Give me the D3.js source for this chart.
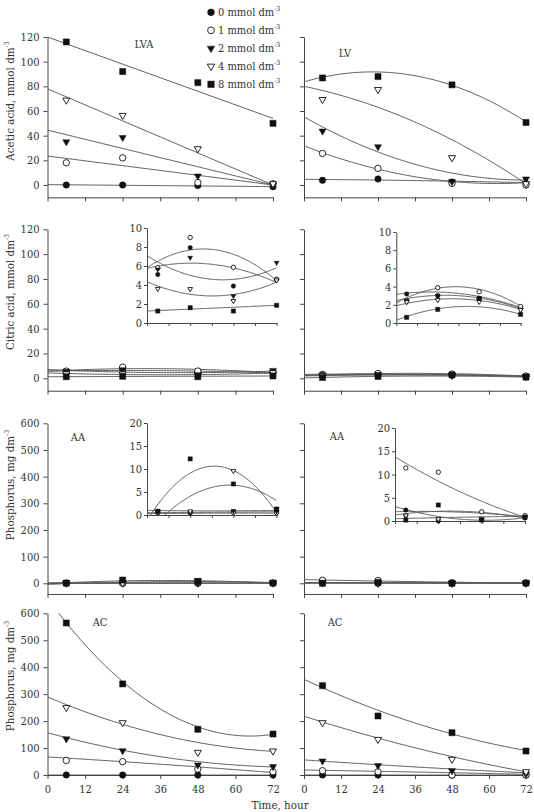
<!DOCTYPE html>
<html>
<head>
<meta charset="utf-8">
<script src="https://cdn.jsdelivr.net/npm/d3@7"></script>
<style>
	body { margin: 0; background: #fff; }
	svg text { font-family: "DejaVu Serif Condensed", "DejaVu Serif", serif; fill: #333; }
</style>
</head>
<body>
<svg id="chart" width="534" height="812"></svg>
<script>
// Sampling times (hour) and treatment levels (mmol dm-3)
const times = [6, 24, 48, 72];
const levels = ['0', '1', '2', '4', '8'];
const xTicks = [0, 12, 24, 36, 48, 60, 72];
// Trend curves are given by their value at these three times
const fitTimes = [0, 36, 72];

// Acetic acid, mmol dm-3 (one row per level)
const aceticLVA = [[0, 0, -0.5, -1.5], [18, 22, 2, 1], [35, 38.5, 7.3, 0], [68.8, 56.4, 29.4, 1], [116, 92, 83, 50]];
const aceticLVAFit = [[0.3, -0.5, -1.3], [23.5, 11.8, 0], [44.5, 22.2, 0], [78, 39, 0], [120, 87, 54]];
const aceticLV = [[3.8, 4.9, 2.5, 1.3], [25.6, 13.5, 1.3, 0], [43.7, 31, 2.7, 4.9], [69.3, 77.4, 22.1, 1], [86.8, 87.9, 81.2, 50.7]];
const aceticLVFit = [[4.6, 3.6, 1.9], [31.8, 6.7, 1.9], [55.3, 16.8, 4], [80, 51, 1], [83.6, 88.6, 51.2]];

// Citric acid, mmol dm-3
const citricLVA = [[5.1, 7.93, 3.89, 4.6], [5.82, 9.0, 5.86, 4.6], [5.65, 6.88, 2.84, 6.35], [3.6, 3.58, 2.32, 4.5], [1.26, 1.61, 1.26, 1.86]];
const citricLVAFit = [[5.75, 6.18, 4.25], [5.82, 7.75, 4.46], [7.09, 4.6, 5.82], [4.35, 2.85, 4.3], [1.26, 1.56, 1.86]];
const citricLV = [[3.19, 3.0, 2.71, 1.7], [2.45, 3.88, 3.44, 1.8], [2.45, 3.0, 2.6, 1.5], [2.3, 2.53, 2.34, 1.43], [0.62, 1.5, 2.7, 0.95]];
const citricLVFit = [[3.15, 3.25, 1.7], [2.2, 3.98, 1.85], [2.45, 3.0, 1.6], [1.9, 2.65, 1.5], [0.3, 1.8, 0.95]];

// Phosphorus, mg dm-3 (AA)
const phosAALVA = [[0.72, 0.5, 0.6, 0.7], [0.5, 0.5, 0.6, 0.5], [0.9, 0.5, 0.9, 0.8], [0.7, 0.8, 9.57, 1.3], [0.8, 12.2, 6.75, 1.3]];
const phosAALVAFit = [[0.5, 0.6, 0.7], [0.3, 0.4, 0.4], [1.0, 0.9, 1.0], [-1.2, 10.6, 0.5], [-4.1, 6.0, 3.1]];
const phosAALV = [[2.37, 0, 0.3, 0.7], [11.4, 10.5, 2.0, 1.15], [0.93, 0.3, 0.3, 0.7], [1.2, 0.4, 0.5, 0.9], [0.2, 3.44, 0.2, 0.8]];
const phosAALVFit = [[3.1, 0.4, 0.7], [13.8, 6.3, 0.8], [2.0, 1.9, 0.9], [0.5, 0.8, 1.0], [1.3, 2.1, 0.6]];

// Phosphorus, mg dm-3 (AC)
const phosACLVA = [[0, 0, 0, 0], [54, 49.5, 22, 12], [134, 90, 37, 31], [250, 194, 84, 89], [564, 338, 169.5, 152]];
const phosACLVAFit = [[0, 0, 0], [67, 40, 9], [157, 68, 30], [290, 150, 88], [655, 245, 151]];
const phosACLV = [[0, 0, 0, 0], [16, 12, 0, 0], [52, 35, 16, 4], [194, 132, 58, 12], [331.5, 219, 157, 89]];
const phosACLVFit = [[0, 0, 0], [18.6, 11, 2.5], [56, 30, 8], [218, 101, 12], [355, 193, 91]];

// Layout
const cols = [[47.5, 273], [304, 526]];
const rows = [
	{ min: -10, max: 120, top: 37, zero: 185, step: 20, title: 'Acetic acid, mmol dm', titleY: 101 },
	{ min: -10, max: 120, top: 229.3, zero: 378.3, step: 20, title: 'Citric acid, mmol dm', titleY: 292 },
	{ min: -40, max: 600, top: 423.3, zero: 583.3, step: 100, title: 'Phosphorus, mg dm', titleY: 485 },
	{ min: 0, max: 600, top: 613.3, zero: 775, step: 100, title: 'Phosphorus, mg dm', titleY: 676 }
];
const panels = [
	{ row: 0, col: 0, values: aceticLVA, fit: aceticLVAFit, label: 'LVA', labelPos: [144, 48] },
	{ row: 0, col: 1, values: aceticLV, fit: aceticLVFit, label: 'LV', labelPos: [345, 56.5] },
	{ row: 1, col: 0, values: citricLVA, fit: citricLVAFit, label: '', labelPos: [0, 0] },
	{ row: 1, col: 1, values: citricLV, fit: citricLVFit, label: '', labelPos: [0, 0] },
	{ row: 2, col: 0, values: phosAALVA, fit: phosAALVAFit, label: 'AA', labelPos: [78, 440.5] },
	{ row: 2, col: 1, values: phosAALV, fit: phosAALVFit, label: 'AA', labelPos: [337, 440] },
	{ row: 3, col: 0, values: phosACLVA, fit: phosACLVAFit, label: 'AC', labelPos: [100, 625.5] },
	{ row: 3, col: 1, values: phosACLV, fit: phosACLVFit, label: 'AC', labelPos: [335, 626] }
];
const insets = [
	{ values: citricLVA, fit: citricLVAFit, x0: 147, x1: 276.6, top: 228, zero: 323, max: 10, step: 2 },
	{ values: citricLV, fit: citricLVFit, x0: 396.3, x1: 520.6, top: 232, zero: 323, max: 10, step: 2 },
	{ values: phosAALVA, fit: phosAALVAFit, x0: 147, x1: 276.6, top: 423, zero: 515, max: 20, step: 5 },
	{ values: phosAALV, fit: phosAALVFit, x0: 395, x1: 525, top: 428, zero: 521, max: 20, step: 5 }
];

// Marker style per level: filled circle, open circle, filled/open down triangle, filled square
const shapes = ['circle', 'circle', 'triangle', 'triangle', 'square'];
const filled = [true, false, true, false, true];
const ink = '#111';
const lineColor = '#5a5a5a';
const axisColor = '#444';

const svg = d3.select('#chart');
let clipCount = 0;

// Quadratic through the three trend values
const trendAt = function(v, t) {
	const [a, b, c] = fitTimes;
	return v[0] * (t - b) * (t - c) / ((a - b) * (a - c))
		+ v[1] * (t - a) * (t - c) / ((b - a) * (b - c))
		+ v[2] * (t - a) * (t - b) / ((c - a) * (c - b));
};

const symbolPath = function(shape, r) {
	if (shape === 'circle') {
		return `M${r},0A${r},${r} 0 1,1 ${-r},0A${r},${r} 0 1,1 ${r},0Z`;
	}
	if (shape === 'square') {
		const s = r * 0.95;
		return `M${-s},${-s}H${s}V${s}H${-s}Z`;
	}
	const side = r * 2.2;
	const h = side * Math.sqrt(3) / 2;
	return `M${-side / 2},${-h / 3}L${side / 2},${-h / 3}L0,${2 * h / 3}Z`;
};

const drawSymbol = function(g, level, cx, cy, r) {
	g.append('path')
		.attr('d', symbolPath(shapes[level], r))
		.attr('transform', `translate(${cx},${cy})`)
		.attr('fill', filled[level] ? ink : '#fff')
		.attr('stroke', ink)
		.attr('stroke-width', filled[level] ? 0.5 : 0.9);
};

const styleAxis = function(g, size) {
	g.attr('font-size', size);
	g.select('.domain').attr('stroke', axisColor);
	g.selectAll('.tick line').attr('stroke', axisColor);
};

// Trend curves (clipped) and markers for one plot area
const drawSeries = function(g, x, y, yLow, yHigh, values, fit, r) {
	const id = 'clip' + (clipCount += 1);
	g.append('clipPath').attr('id', id)
		.append('rect')
		.attr('x', x(0))
		.attr('y', y(yHigh))
		.attr('width', x(72) - x(0))
		.attr('height', y(yLow) - y(yHigh));

	const line = d3.line().x(d => x(d[0])).y(d => y(d[1]));
	const curveTimes = d3.range(0, 72.25, 0.5);
	g.append('g').attr('clip-path', `url(#${id})`)
		.selectAll('path')
		.data(fit)
	.join('path')
		.attr('d', v => line(curveTimes.map(t => [t, trendAt(v, t)])))
		.attr('fill', 'none')
		.attr('stroke', lineColor)
		.attr('stroke-width', 1);

	const marks = g.append('g');
	values.forEach((series, level) => {
		series.forEach((v, i) => drawSymbol(marks, level, x(times[i]), y(v), r));
	});
};

// Main panels
panels.forEach(p => {
	const rw = rows[p.row];
	const g = svg.append('g');
	const x = d3.scaleLinear().domain([0, 72]).range(cols[p.col]);
	const y = d3.scaleLinear().domain([0, rw.max]).range([rw.zero, rw.top]);
	const yAxisScale = y.copy().domain([rw.min, rw.max]).range([y(rw.min), y(rw.max)]);
	const yTicks = d3.range(0, rw.max + 1, rw.step);

	const ya = g.append('g')
		.attr('transform', `translate(${x(0)},0)`)
		.call(d3.axisLeft(yAxisScale).tickValues(yTicks).tickSizeInner(4).tickSizeOuter(0).tickPadding(4)
			.tickFormat(p.col === 0 ? d3.format('d') : ''));
	styleAxis(ya, 11);

	const xa = g.append('g')
		.attr('transform', `translate(0,${y(rw.min)})`)
		.call(d3.axisBottom(x).tickValues(xTicks).tickSizeInner(4).tickSizeOuter(0).tickPadding(6)
			.tickFormat(p.row === 3 ? d3.format('d') : ''));
	styleAxis(xa, 11);

	drawSeries(g, x, y, rw.min, rw.max, p.values, p.fit, 3.2);

	if (p.label) {
		g.append('text')
			.attr('x', p.labelPos[0])
			.attr('y', p.labelPos[1])
			.attr('text-anchor', 'middle')
			.attr('font-size', 11)
			.text(p.label);
	}
});

// Insets
insets.forEach(s => {
	const g = svg.append('g');
	const x = d3.scaleLinear().domain([0, 72]).range([s.x0, s.x1]);
	const y = d3.scaleLinear().domain([0, s.max]).range([s.zero, s.top]);

	const ya = g.append('g')
		.attr('transform', `translate(${x(0)},0)`)
		.call(d3.axisLeft(y).tickValues(d3.range(0, s.max + 1, s.step)).tickSizeInner(3).tickSizeOuter(0).tickPadding(2));
	styleAxis(ya, 11);

	const xa = g.append('g')
		.attr('transform', `translate(0,${y(0)})`)
		.call(d3.axisBottom(x).tickValues(xTicks).tickSizeInner(3).tickSizeOuter(0).tickFormat(''));
	styleAxis(xa, 11);

	drawSeries(g, x, y, 0, s.max, s.values, s.fit, 2.2);
});

// Y axis titles
rows.forEach(rw => {
	const t = svg.append('text')
		.attr('transform', `translate(14,${rw.titleY}) rotate(-90)`)
		.attr('text-anchor', 'middle')
		.attr('font-size', 11.5);
	t.append('tspan').text(rw.title);
	t.append('tspan').attr('dy', -5).attr('font-size', 7).text('-3');
});

// X axis title
svg.append('text')
	.attr('x', 280)
	.attr('y', 809)
	.attr('text-anchor', 'middle')
	.attr('font-size', 11.5)
	.text('Time, hour');

// Legend
const legend = svg.append('g');
levels.forEach((lv, i) => {
	const ly = 12.3 + i * 18;
	drawSymbol(legend, i, 211, ly, 3.4);
	const t = legend.append('text')
		.attr('x', 218)
		.attr('y', ly + 4)
		.attr('font-size', 11);
	t.append('tspan').text(`${lv} mmol  dm`);
	t.append('tspan').attr('dy', -5).attr('font-size', 7).text('-3');
});
</script>
</body>
</html>
